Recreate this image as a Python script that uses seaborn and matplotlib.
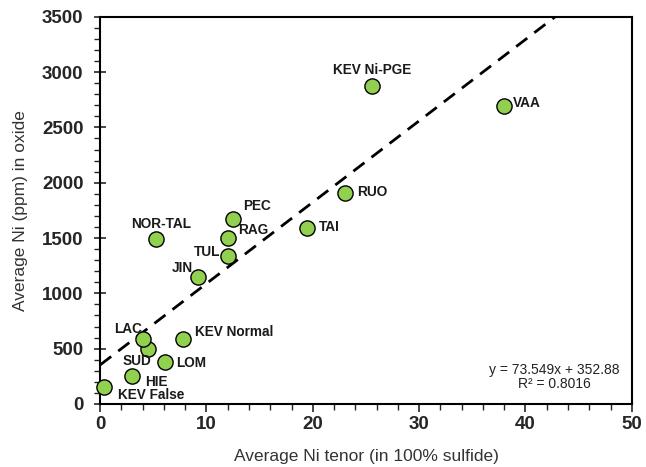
import matplotlib
matplotlib.use("Agg")
import matplotlib.pyplot as plt
from matplotlib.ticker import MultipleLocator
import seaborn as sns
import pandas as pd
import numpy as np

names = ["KEV False", "HIE", "SUD", "LAC", "LOM", "KEV Normal", "JIN", "TUL",
         "RAG", "PEC", "NOR-TAL", "TAI", "RUO", "KEV Ni-PGE", "VAA"]
tenor = [0.4, 3.0, 4.5, 4.0, 6.1, 7.8, 9.2, 12.0, 12.0, 12.5, 5.3, 19.5, 23.0, 25.6, 38.0]
ni_oxide = [154, 253, 497, 588, 380, 588, 1148, 1338, 1500, 1673, 1492, 1591, 1908, 2875, 2694]

slope = 73.549
intercept = 352.88
r2 = 0.8016

# label offsets in pixels (dx, dy, ha)
label_pos = {
    "KEV False": (14, -8, "left"),
    "HIE": (13, -6, "left"),
    "SUD": (3, -12, "right"),
    "LAC": (-1, 10, "right"),
    "LOM": (11, -1, "left"),
    "KEV Normal": (12, 7, "left"),
    "JIN": (-5, 9, "right"),
    "TUL": (-7, 4, "right"),
    "RAG": (10, 8, "left"),
    "PEC": (10, 13, "left"),
    "NOR-TAL": (5, 15, "center"),
    "TAI": (11, 1, "left"),
    "RUO": (12, 1, "left"),
    "KEV Ni-PGE": (0, 16, "center"),
    "VAA": (9, 3, "left"),
}

df = pd.DataFrame({"name": names, "x": tenor, "y": ni_oxide})

sns.set_style("white")
plt.rcParams["font.family"] = ["Liberation Sans", "DejaVu Sans"]

fig = plt.figure(figsize=(6.46, 4.67), dpi=100)
ax = fig.add_axes([0.155, 0.135, 0.823, 0.829])

xl = np.array([0, (3500 - intercept) / slope])
ax.plot(xl, slope * xl + intercept, color="black", lw=2, dashes=(5, 3.2), zorder=2)

sns.scatterplot(data=df, x="x", y="y", ax=ax, color="#92D050", edgecolor="black",
                linewidth=1, s=120, zorder=3, clip_on=False)

for n, x, y in zip(names, tenor, ni_oxide):
    dx, dy, ha = label_pos[n]
    ax.annotate(n, (x, y), xytext=(dx, dy), textcoords="offset pixels",
                ha=ha, va="center", fontsize=9.8, fontweight="bold", color="#1a1a1a")

ax.text(0.855, 0.07, f"y = {slope}x + {intercept}\nR² = {r2}", transform=ax.transAxes,
        ha="center", va="center", fontsize=10, color="#222222", linespacing=1.05)

ax.set_xlim(0, 50)
ax.set_ylim(0, 3500)
ax.xaxis.set_major_locator(MultipleLocator(10))
ax.xaxis.set_minor_locator(MultipleLocator(2))
ax.yaxis.set_major_locator(MultipleLocator(500))
ax.yaxis.set_minor_locator(MultipleLocator(100))
ax.tick_params(axis="x", which="major", direction="out", length=6, width=1.2,
               labelsize=13.5, bottom=True, pad=3)
ax.tick_params(axis="x", which="minor", direction="out", length=4, width=1, bottom=True)
ax.tick_params(axis="y", which="major", direction="inout", length=8, width=1.2,
               labelsize=13.5, left=True, pad=8)
ax.tick_params(axis="y", which="minor", direction="out", length=4, width=1, left=True)
for lab in ax.get_xticklabels() + ax.get_yticklabels():
    lab.set_fontweight("bold")

for sp in ax.spines.values():
    sp.set_visible(True)
    sp.set_color("black")
    sp.set_linewidth(1.5)

ax.set_xlabel("Average Ni tenor (in 100% sulfide)", fontsize=12.5, color="#333333", labelpad=11)
ax.set_ylabel("Average Ni (ppm) in oxide", fontsize=12.5, color="#333333", labelpad=10)

fig.savefig("out.png", dpi=100)
